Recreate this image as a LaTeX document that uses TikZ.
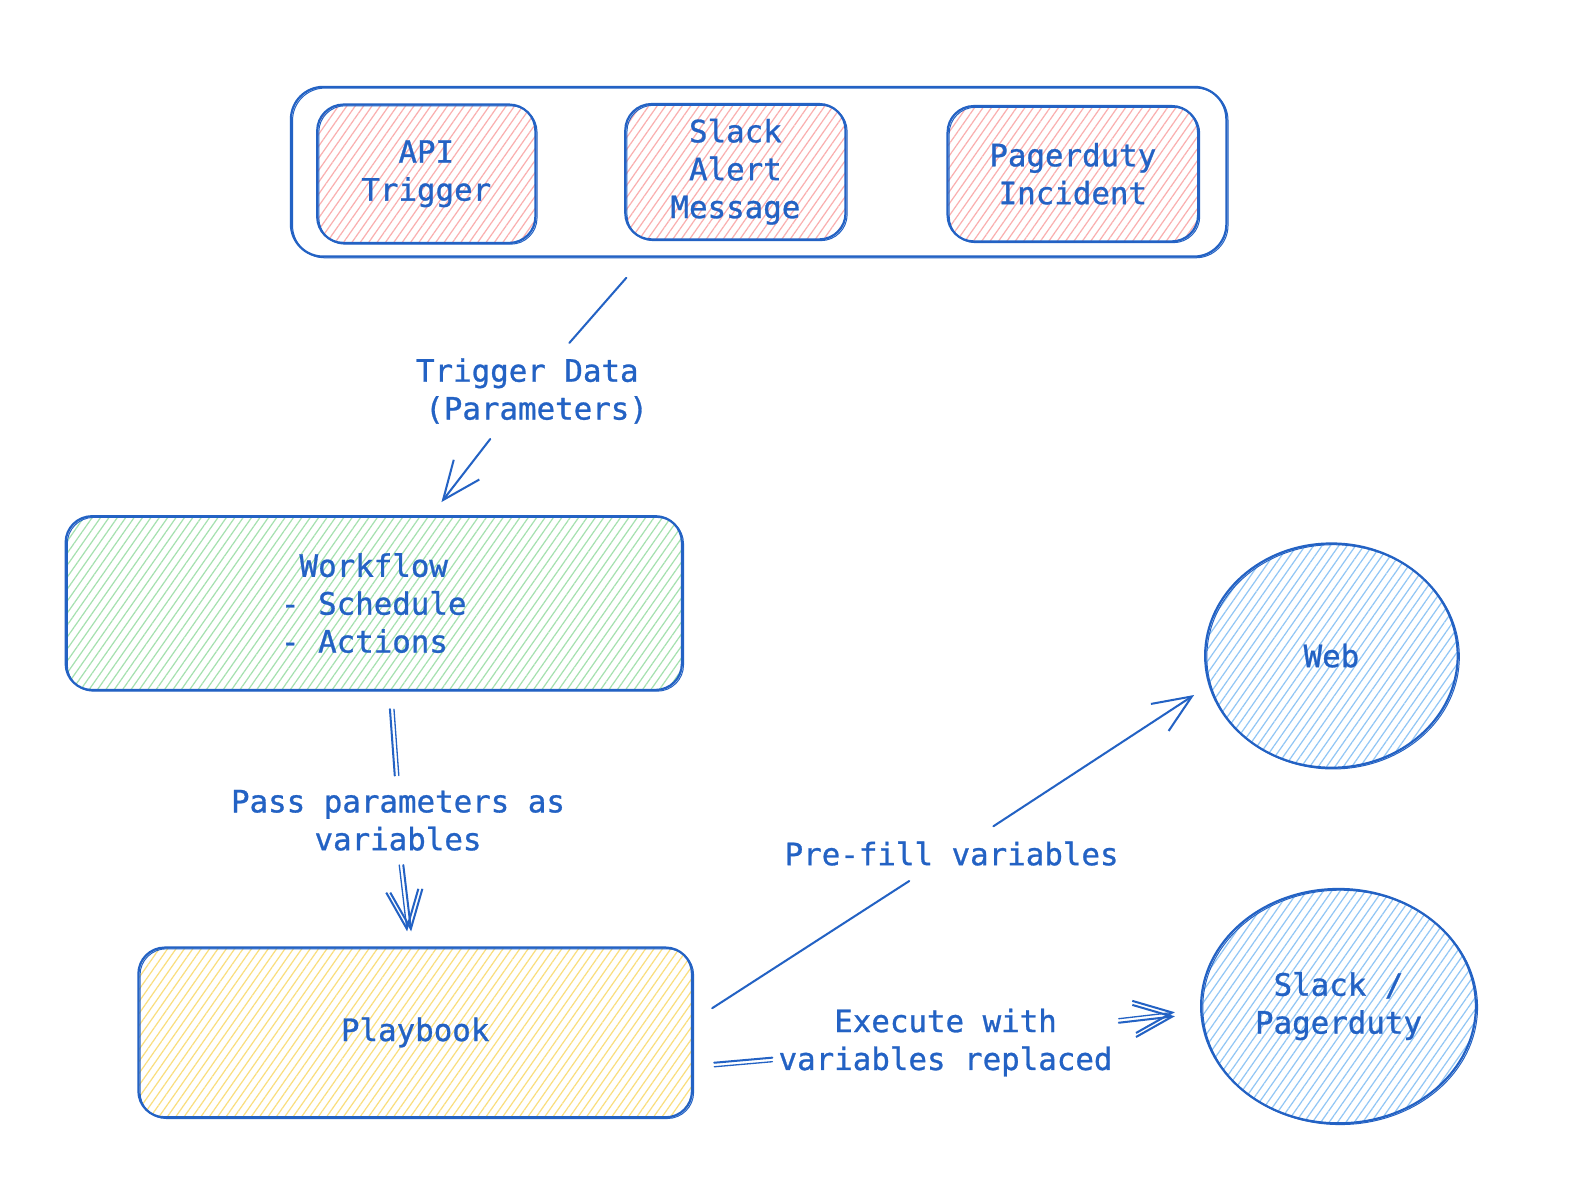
\documentclass[tikz,border=0pt]{standalone}
\usepackage{fontspec}
\setmainfont{DejaVu Sans Mono}[FakeBold=0.9]
\usetikzlibrary{patterns.meta,arrows.meta,shapes.geometric}
\definecolor{ink}{RGB}{35,98,196}
\definecolor{hred}{RGB}{250,175,175}
\definecolor{hgreen}{RGB}{165,225,175}
\definecolor{hyellow}{RGB}{250,222,125}
\definecolor{hblue}{RGB}{145,198,245}
\begin{document}
\begin{tikzpicture}[x=1pt,y=-1pt,
  txt/.style={text=ink, font=\fontsize{30.5}{37.5}\selectfont, align=center},
  sk/.style={draw=ink, line width=2.2pt,
    postaction={draw=ink, line width=1pt, transform canvas={xshift=1.6pt,yshift=-1.2pt}}},
  box/.style={txt, sk, rounded corners=26pt, inner sep=0pt},
  hatch/.style={pattern={Lines[angle=55,distance=6.8pt,line width=1.2pt]}, pattern color=#1},
  circ/.style={txt, sk, ellipse, inner sep=0pt},
  lbl/.style={txt, inner sep=#1},
  conn/.style={draw=ink, line width=2pt, line cap=round},
  tip/.style={-{Straight Barb[length=38pt,width=32pt,line width=2pt]}}
]
\useasboundingbox[fill=white] (0,0) rectangle (1568,1188);

% containers and boxes
\node[box, rounded corners=32pt, minimum width=926pt, minimum height=168pt] (cont) at (751,170) {};
\node[box, hatch=hred, minimum width=216pt, minimum height=137pt] (api) at (422,172) {API\\Trigger};
\node[box, hatch=hred, minimum width=218pt, minimum height=134pt] (slack) at (728,170) {Slack\\Alert\\Message};
\node[box, hatch=hred, minimum width=248pt, minimum height=134pt] (pd) at (1062,172) {Pagerduty\\Incident};

\node[box, hatch=hgreen, minimum width=610pt, minimum height=172pt] (wf) at (370,597) {Workflow\\- Schedule\\- Actions\phantom{x}};
\node[box, hatch=hyellow, minimum width=548pt, minimum height=168pt] (pb) at (411,1022) {Playbook};

\node[circ, hatch=hblue, minimum width=250pt, minimum height=222pt] (web) at (1318,649) {Web};
\node[circ, hatch=hblue, minimum width=272pt, minimum height=232pt] (sp) at (1325,996) {Slack /\\Pagerduty};

% labels
\node[lbl=15pt] (trig) at (522,387) {Trigger Data\\\phantom{x}(Parameters)};
\node[lbl=14pt] (pass) at (394,812) {Pass parameters as\\variables};
\node[lbl=15pt] (pre) at (942,845) {Pre-fill variables};
\node[lbl=6pt] (exe) at (936,1032) {Execute with\\variables replaced};

% connector end points
\coordinate (t1) at (620,275);
\coordinate (t2) at (437,497);
\coordinate (p1) at (386,702);
\coordinate (p2) at (407,922);
\coordinate (w1) at (705,998);
\coordinate (w2) at (1182,688);
\coordinate (e1) at (707,1052);
\coordinate (e2) at (1163,1006);

% trigger data arrow
\draw[conn] (t1) -- (trig);
\draw[conn, tip] (trig) -- (t2);

% pass parameters arrow (double sketch stroke)
\draw[conn] (p1) -- (pass);
\draw[conn, tip] (pass) -- (p2);
\draw[conn, line width=1.3pt, transform canvas={xshift=4pt}] (p1) -- (pass);
\draw[conn, line width=1.3pt, tip, transform canvas={xshift=-4pt}] (pass) -- (p2);

% pre-fill arrow
\draw[conn] (w1) -- (pre);
\draw[conn, tip] (pre) -- (w2);

% execute arrow
\draw[conn] (e1) -- (exe);
\draw[conn, tip] (exe) -- (e2);
\draw[conn, line width=1.3pt, transform canvas={yshift=-4pt}] (e1) -- (exe);
\draw[conn, line width=1.3pt, tip, transform canvas={yshift=4pt}] (exe) -- (e2);
\end{tikzpicture}
\end{document}
